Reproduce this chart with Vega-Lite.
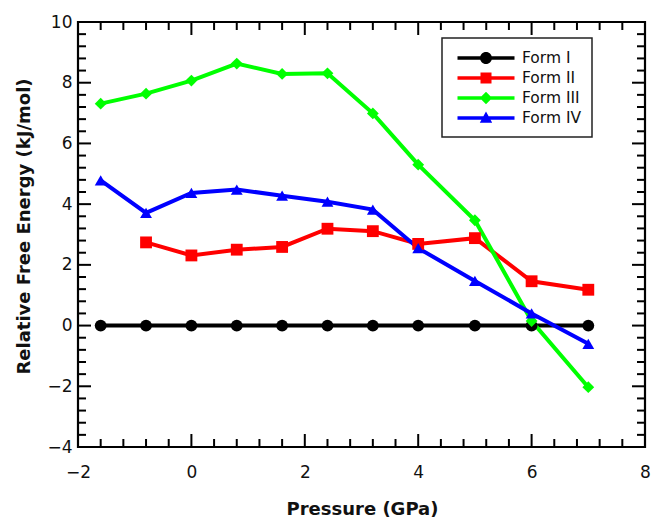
{
  "$schema": "https://vega.github.io/schema/vega-lite/v6.json",
  "width": 567,
  "height": 425,
  "autosize": {"type": "none"},
  "padding": {"left": 78, "top": 22, "right": 6, "bottom": 71},
  "background": "white",
  "datasets": {
    "series": [
      {"form": "Form I", "p": -1.6, "e": 0},
      {"form": "Form I", "p": -0.8, "e": 0},
      {"form": "Form I", "p": 0, "e": 0},
      {"form": "Form I", "p": 0.8, "e": 0},
      {"form": "Form I", "p": 1.6, "e": 0},
      {"form": "Form I", "p": 2.4, "e": 0},
      {"form": "Form I", "p": 3.2, "e": 0},
      {"form": "Form I", "p": 4, "e": 0},
      {"form": "Form I", "p": 5, "e": 0},
      {"form": "Form I", "p": 6, "e": 0},
      {"form": "Form I", "p": 7, "e": 0},
      {"form": "Form II", "p": -0.8, "e": 2.74},
      {"form": "Form II", "p": 0, "e": 2.31},
      {"form": "Form II", "p": 0.8, "e": 2.5},
      {"form": "Form II", "p": 1.6, "e": 2.59},
      {"form": "Form II", "p": 2.4, "e": 3.19},
      {"form": "Form II", "p": 3.2, "e": 3.11},
      {"form": "Form II", "p": 4, "e": 2.69},
      {"form": "Form II", "p": 5, "e": 2.88},
      {"form": "Form II", "p": 6, "e": 1.46},
      {"form": "Form II", "p": 7, "e": 1.18},
      {"form": "Form III", "p": -1.6, "e": 7.31},
      {"form": "Form III", "p": -0.8, "e": 7.64},
      {"form": "Form III", "p": 0, "e": 8.07},
      {"form": "Form III", "p": 0.8, "e": 8.63},
      {"form": "Form III", "p": 1.6, "e": 8.29},
      {"form": "Form III", "p": 2.4, "e": 8.31},
      {"form": "Form III", "p": 3.2, "e": 6.99},
      {"form": "Form III", "p": 4, "e": 5.3},
      {"form": "Form III", "p": 5, "e": 3.47},
      {"form": "Form III", "p": 6, "e": 0.15},
      {"form": "Form III", "p": 7, "e": -2.03},
      {"form": "Form IV", "p": -1.6, "e": 4.78},
      {"form": "Form IV", "p": -0.8, "e": 3.71},
      {"form": "Form IV", "p": 0, "e": 4.37},
      {"form": "Form IV", "p": 0.8, "e": 4.48},
      {"form": "Form IV", "p": 1.6, "e": 4.28},
      {"form": "Form IV", "p": 2.4, "e": 4.08},
      {"form": "Form IV", "p": 3.2, "e": 3.82},
      {"form": "Form IV", "p": 4, "e": 2.55},
      {"form": "Form IV", "p": 5, "e": 1.47},
      {"form": "Form IV", "p": 6, "e": 0.4},
      {"form": "Form IV", "p": 7, "e": -0.6}
    ],
    "xticks": [
      {"v": -2, "kind": "major"}, {"v": -1.6, "kind": "minor"}, {"v": -1.2, "kind": "minor"}, {"v": -0.8, "kind": "minor"}, {"v": -0.4, "kind": "minor"},
      {"v": 0, "kind": "major"}, {"v": 0.4, "kind": "minor"}, {"v": 0.8, "kind": "minor"}, {"v": 1.2, "kind": "minor"}, {"v": 1.6, "kind": "minor"},
      {"v": 2, "kind": "major"}, {"v": 2.4, "kind": "minor"}, {"v": 2.8, "kind": "minor"}, {"v": 3.2, "kind": "minor"}, {"v": 3.6, "kind": "minor"},
      {"v": 4, "kind": "major"}, {"v": 4.4, "kind": "minor"}, {"v": 4.8, "kind": "minor"}, {"v": 5.2, "kind": "minor"}, {"v": 5.6, "kind": "minor"},
      {"v": 6, "kind": "major"}, {"v": 6.4, "kind": "minor"}, {"v": 6.8, "kind": "minor"}, {"v": 7.2, "kind": "minor"}, {"v": 7.6, "kind": "minor"},
      {"v": 8, "kind": "major"}
    ],
    "yticks": [
      {"v": -4, "kind": "major"}, {"v": -3.6, "kind": "minor"}, {"v": -3.2, "kind": "minor"}, {"v": -2.8, "kind": "minor"}, {"v": -2.4, "kind": "minor"},
      {"v": -2, "kind": "major"}, {"v": -1.6, "kind": "minor"}, {"v": -1.2, "kind": "minor"}, {"v": -0.8, "kind": "minor"}, {"v": -0.4, "kind": "minor"},
      {"v": 0, "kind": "major"}, {"v": 0.4, "kind": "minor"}, {"v": 0.8, "kind": "minor"}, {"v": 1.2, "kind": "minor"}, {"v": 1.6, "kind": "minor"},
      {"v": 2, "kind": "major"}, {"v": 2.4, "kind": "minor"}, {"v": 2.8, "kind": "minor"}, {"v": 3.2, "kind": "minor"}, {"v": 3.6, "kind": "minor"},
      {"v": 4, "kind": "major"}, {"v": 4.4, "kind": "minor"}, {"v": 4.8, "kind": "minor"}, {"v": 5.2, "kind": "minor"}, {"v": 5.6, "kind": "minor"},
      {"v": 6, "kind": "major"}, {"v": 6.4, "kind": "minor"}, {"v": 6.8, "kind": "minor"}, {"v": 7.2, "kind": "minor"}, {"v": 7.6, "kind": "minor"},
      {"v": 8, "kind": "major"}, {"v": 8.4, "kind": "minor"}, {"v": 8.8, "kind": "minor"}, {"v": 9.2, "kind": "minor"}, {"v": 9.6, "kind": "minor"},
      {"v": 10, "kind": "major"}
    ]
  },
  "layer": [
    {
      "data": {"name": "series"},
      "mark": {"type": "line", "strokeWidth": 4},
      "encoding": {
        "x": {"field": "p", "type": "quantitative", "scale": {"domain": [-2, 8], "nice": false, "zero": false},
          "axis": {"orient": "bottom", "values": [-2, 0, 2, 4, 6, 8], "format": "d", "ticks": false, "labelPadding": 17, "labelFlush": false, "title": "Pressure (GPa)", "titleX": 284, "titleY": 67, "titleBaseline": "alphabetic", "titleAlign": "center", "titleAnchor": null, "titleLetterSpacing": 1.4}},
        "y": {"field": "e", "type": "quantitative", "scale": {"domain": [-4, 10], "nice": false, "zero": false},
          "axis": {"orient": "left", "values": [-4, -2, 0, 2, 4, 6, 8, 10], "format": "d", "ticks": false, "labelPadding": 6, "labelFlush": false, "title": "Relative Free Energy (kJ/mol)", "titleX": -49, "titleY": 204, "titleAngle": -90, "titleBaseline": "alphabetic", "titleAlign": "center", "titleAnchor": null, "titleLetterSpacing": 0.6}},
        "color": {"field": "form", "type": "nominal",
          "scale": {"domain": ["Form I", "Form II", "Form III", "Form IV"], "range": ["#000000", "#ff0000", "#00ff00", "#0000ff"]},
          "legend": {
            "orient": "none", "legendX": 364, "legendY": 16, "title": null,
            "padding": 10, "symbolSize": 400, "symbolOffset": 24, "labelOffset": 26, "rowPadding": 1,
            "labelFont": "DejaVu Sans", "labelFontSize": 15.5, "labelColor": "#111111",
            "strokeColor": "#222222", "fillColor": "white",
            "encode": {
              "symbols": {
                "update": {
                  "fill": {"scale": "color", "field": "value"},
                  "strokeWidth": {"value": 0},
                  "opacity": {"value": 1},
                  "fillOpacity": {"value": 1},
                  "size": {"value": 400},
                  "shape": {"signal": "datum.value === 'Form I' ? 'M-2.85,-0.18H2.85V0.18H-2.85Z M-0.6,0A0.6,0.6 0 1,1 0.6,0A0.6,0.6 0 1,1 -0.6,0Z' : datum.value === 'Form II' ? 'M-2.85,-0.18H2.85V0.18H-2.85Z M-0.55,-0.55H0.55V0.55H-0.55Z' : datum.value === 'Form III' ? 'M-2.85,-0.18H2.85V0.18H-2.85Z M0,-0.62L0.62,0L0,0.62L-0.62,0Z' : 'M-2.85,-0.18H2.85V0.18H-2.85Z M0,-0.65L0.62,0.48H-0.62Z'"}
                }
              }
            }
          }
        }
      }
    },
    {
      "data": {"name": "series"},
      "mark": {"type": "point", "filled": true, "opacity": 1, "size": 140},
      "encoding": {
        "x": {"field": "p", "type": "quantitative"},
        "y": {"field": "e", "type": "quantitative"},
        "color": {"field": "form", "type": "nominal"},
        "shape": {"field": "form", "type": "nominal",
          "scale": {"domain": ["Form IV", "Form III", "Form II", "Form I"], "range": ["triangle-up", "diamond", "square", "circle"]},
          "legend": null}
      }
    },
    {
      "data": {"name": "xticks"},
      "transform": [{"filter": "datum.kind === 'major'"}],
      "mark": {"type": "tick", "orient": "vertical", "size": 13, "thickness": 2, "yOffset": -6.5, "color": "black", "opacity": 1},
      "encoding": {"x": {"field": "v", "type": "quantitative"}, "y": {"datum": -4, "type": "quantitative"}}
    },
    {
      "data": {"name": "xticks"},
      "transform": [{"filter": "datum.kind === 'minor'"}],
      "mark": {"type": "tick", "orient": "vertical", "size": 8, "thickness": 2, "yOffset": -4, "color": "black", "opacity": 1},
      "encoding": {"x": {"field": "v", "type": "quantitative"}, "y": {"datum": -4, "type": "quantitative"}}
    },
    {
      "data": {"name": "xticks"},
      "transform": [{"filter": "datum.kind === 'major'"}],
      "mark": {"type": "tick", "orient": "vertical", "size": 13, "thickness": 2, "yOffset": 6.5, "color": "black", "opacity": 1},
      "encoding": {"x": {"field": "v", "type": "quantitative"}, "y": {"datum": 10, "type": "quantitative"}}
    },
    {
      "data": {"name": "xticks"},
      "transform": [{"filter": "datum.kind === 'minor'"}],
      "mark": {"type": "tick", "orient": "vertical", "size": 8, "thickness": 2, "yOffset": 4, "color": "black", "opacity": 1},
      "encoding": {"x": {"field": "v", "type": "quantitative"}, "y": {"datum": 10, "type": "quantitative"}}
    },
    {
      "data": {"name": "yticks"},
      "transform": [{"filter": "datum.kind === 'major'"}],
      "mark": {"type": "tick", "orient": "horizontal", "size": 13, "thickness": 2, "xOffset": 6.5, "color": "black", "opacity": 1},
      "encoding": {"y": {"field": "v", "type": "quantitative"}, "x": {"datum": -2, "type": "quantitative"}}
    },
    {
      "data": {"name": "yticks"},
      "transform": [{"filter": "datum.kind === 'minor'"}],
      "mark": {"type": "tick", "orient": "horizontal", "size": 8, "thickness": 2, "xOffset": 4, "color": "black", "opacity": 1},
      "encoding": {"y": {"field": "v", "type": "quantitative"}, "x": {"datum": -2, "type": "quantitative"}}
    },
    {
      "data": {"name": "yticks"},
      "transform": [{"filter": "datum.kind === 'major'"}],
      "mark": {"type": "tick", "orient": "horizontal", "size": 13, "thickness": 2, "xOffset": -6.5, "color": "black", "opacity": 1},
      "encoding": {"y": {"field": "v", "type": "quantitative"}, "x": {"datum": 8, "type": "quantitative"}}
    },
    {
      "data": {"name": "yticks"},
      "transform": [{"filter": "datum.kind === 'minor'"}],
      "mark": {"type": "tick", "orient": "horizontal", "size": 8, "thickness": 2, "xOffset": -4, "color": "black", "opacity": 1},
      "encoding": {"y": {"field": "v", "type": "quantitative"}, "x": {"datum": 8, "type": "quantitative"}}
    }
  ],
  "config": {
    "view": {"stroke": "black", "strokeWidth": 2.2},
    "axis": {
      "domain": false, "grid": false,
      "labelFont": "DejaVu Sans", "labelFontSize": 17, "labelColor": "#111111",
      "titleFont": "DejaVu Sans", "titleFontSize": 18, "titleFontWeight": "bold", "titleColor": "#111111"
    },
    "legend": {"strokeWidth": 1.5}
  }
}
